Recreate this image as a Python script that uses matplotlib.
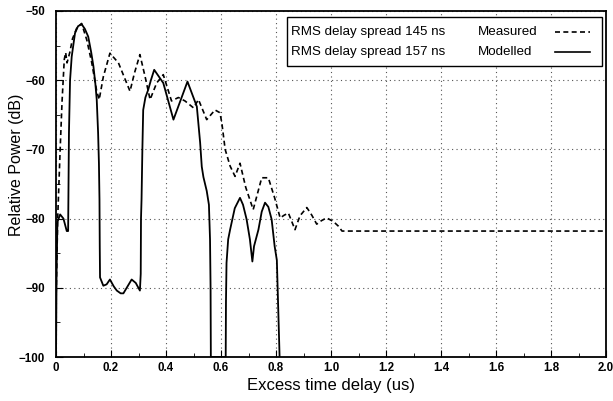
import matplotlib
matplotlib.use("Agg")
import matplotlib.pyplot as plt
from matplotlib.ticker import MultipleLocator
from matplotlib.patches import Rectangle
from matplotlib.lines import Line2D

plt.rcParams['font.family'] = ['Liberation Sans', 'DejaVu Sans']

# measured power delay profile (dashed)
measured_t = [0, 0.006, 0.015, 0.022, 0.03, 0.035, 0.04, 0.05, 0.06, 0.075, 0.093,
              0.112, 0.13, 0.148, 0.157, 0.172, 0.196, 0.227, 0.269, 0.285, 0.305,
              0.324, 0.342, 0.366, 0.39, 0.42, 0.445, 0.469, 0.5, 0.518, 0.548,
              0.578, 0.596, 0.603, 0.615, 0.633, 0.651, 0.669, 0.69, 0.717, 0.748,
              0.772, 0.795, 0.815, 0.83, 0.845, 0.869, 0.887, 0.912, 0.93, 0.948,
              0.965, 0.984, 1.008, 1.027, 1.04, 2.0]
measured_db = [-92, -80, -70, -63, -57, -56, -57.5, -56, -54, -52.5, -51.8,
               -54.2, -57.5, -61.6, -62.8, -59.5, -56.1, -57.5, -61.6, -59, -56.3,
               -59.5, -62.8, -60.4, -59.2, -63, -62.5, -63, -64, -62.8, -65.7,
               -64.3, -64.7, -66.2, -70, -72.4, -73.9, -72, -75.5, -78.7, -74.1,
               -74.1, -77, -79.9, -79.5, -79.2, -81.6, -79.6, -78.4, -79.5, -80.8,
               -80.3, -79.9, -80.4, -81.1, -81.8, -81.8]

# modelled power delay profile (solid)
modelled_t = [0, 0.002, 0.005, 0.015, 0.027, 0.039, 0.044, 0.045, 0.047, 0.051,
              0.057, 0.069, 0.08, 0.093, 0.105, 0.117, 0.128, 0.136, 0.143, 0.148,
              0.153, 0.156, 0.158, 0.159, 0.16, 0.172, 0.184, 0.196, 0.21, 0.221,
              0.235, 0.245, 0.26, 0.275, 0.29, 0.305, 0.308, 0.309, 0.311, 0.314,
              0.317, 0.325, 0.335, 0.345, 0.357, 0.39, 0.427, 0.478, 0.512, 0.524,
              0.53, 0.536, 0.548, 0.556, 0.56, 0.562, 0.563, 0.617, 0.618, 0.62,
              0.626, 0.633, 0.65, 0.669, 0.68, 0.693, 0.705, 0.714, 0.72, 0.736,
              0.748, 0.76, 0.772, 0.784, 0.795, 0.803, 0.808, 0.813]
modelled_db = [-100, -88, -80.5, -79.4, -80, -81.8, -81.8, -77, -67.6, -60,
               -56.6, -53.2, -52.2, -51.9, -52.6, -53.7, -56, -58, -60.5, -62.8,
               -67.6, -72, -77.2, -84, -88.5, -89.7, -89.5, -88.8, -89.8, -90.4,
               -90.8, -90.8, -89.8, -88.8, -89.3, -90.4, -88, -80, -77.2, -70,
               -64.3, -62.5, -61.4, -60, -58.5, -60.4, -65.7, -60.2, -63.8, -69,
               -72.5, -74, -76, -78, -83, -90, -100, -100, -92, -86.4,
               -83, -81.6, -78.5, -77, -78, -80.1, -83, -86.2, -84, -81.6,
               -79, -77.7, -78.3, -80.1, -84, -86, -93, -100]

spread_labels = ["RMS delay spread 145 ns", "RMS delay spread 157 ns"]
series_labels = ["Measured", "Modelled"]
xtick_vals = [0, 0.2, 0.4, 0.6, 0.8, 1.0, 1.2, 1.4, 1.6, 1.8, 2.0]
xtick_text = ["0", "0.2", "0.4", "0.6", "0.8", "1.0", "1.2", "1.4", "1.6", "1.8", "2.0"]

fig = plt.figure(figsize=(6.13, 4.01), dpi=100)
ax = fig.add_axes([0.0914, 0.1097, 0.8972, 0.8629])

dash = (0, (3, 2))
ax.plot(measured_t, measured_db, color='black', lw=1.2, ls=dash)
ax.plot(modelled_t, modelled_db, color='black', lw=1.3)

ax.set_xlim(0, 2.0)
ax.set_ylim(-100, -50)
ax.set_xticks(xtick_vals)
ax.set_xticklabels(xtick_text)
ax.xaxis.set_minor_locator(MultipleLocator(0.1))
ax.yaxis.set_major_locator(MultipleLocator(10))
ax.yaxis.set_minor_locator(MultipleLocator(5))
ax.tick_params(which='both', direction='in', labelsize=8.3)
ax.tick_params(which='major', length=5)
ax.tick_params(which='minor', length=3)
ax.tick_params(axis='y', pad=8)
for lbl in ax.get_xticklabels() + ax.get_yticklabels():
    lbl.set_fontweight('bold')

ax.grid(True, which='major', color='#555555', ls=(0, (1, 3)), lw=0.8)
for s in ax.spines.values():
    s.set_linewidth(1.3)

ax.set_xlabel("Excess time delay (us)", fontsize=12, labelpad=3)
ax.set_ylabel("Relative Power (dB)", fontsize=11.5)
ax.yaxis.set_label_coords(-0.059, 0.555)

# legend box: spread text | series name | line sample
ax.add_patch(Rectangle((0.42, 0.841), 0.5727, 0.1417, transform=ax.transAxes,
                       facecolor='white', edgecolor='black', lw=1.0, zorder=5))
row_y = [0.9393, 0.8815]
styles = [dash, '-']
for i in range(2):
    ax.text(0.4273, row_y[i], spread_labels[i], transform=ax.transAxes,
            fontsize=9.6, va='center', ha='left', zorder=6)
    ax.text(0.7673, row_y[i], series_labels[i], transform=ax.transAxes,
            fontsize=9.6, va='center', ha='left', zorder=6)
    ax.add_line(Line2D([0.9073, 0.9709], [row_y[i], row_y[i]], transform=ax.transAxes,
                       color='black', lw=1.2, ls=styles[i], zorder=6))

fig.savefig("out.png", dpi=100)
